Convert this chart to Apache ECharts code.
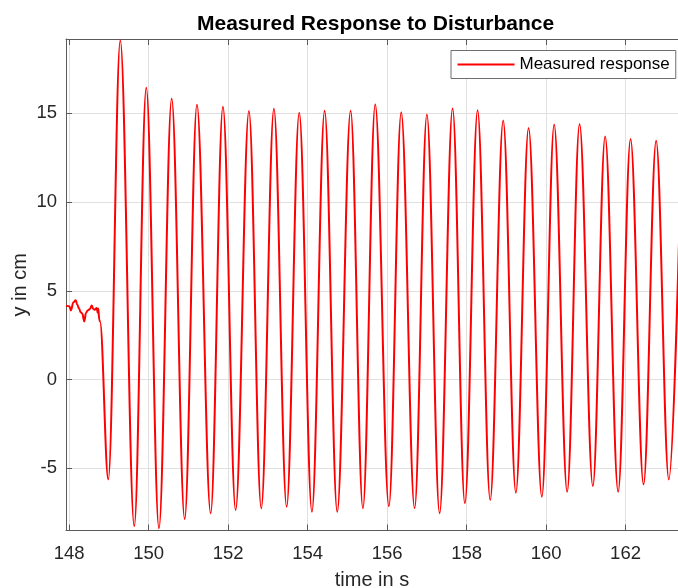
<!DOCTYPE html>
<html>
<head>
<meta charset="utf-8">
<script src="https://cdn.jsdelivr.net/npm/echarts@6/dist/echarts.min.js"></script>
<style>
html,body{margin:0;padding:0;background:#fff;}
#chart{width:678px;height:588px;}
</style>
</head>
<body>
<div id="chart"></div>
<script>
// ---- data ----
const titleText = 'Measured Response to Disturbance';
const seriesName = 'Measured response';
const xName = 'time in s';
const yName = 'y in cm';

// time (s) of each sample: quiet part, then peaks/troughs of the oscillation
const timeS = [
  147.920, 148.003, 148.045, 148.103, 148.164, 148.204, 148.254, 148.289, 148.330, 148.380,
  148.423, 148.465, 148.523, 148.566, 148.606, 148.649, 148.692, 148.717, 148.732, 148.757,
  148.775,
  148.984, 149.286, 149.638, 149.940, 150.259, 150.579, 150.906, 151.215, 151.560, 151.869,
  152.189, 152.523, 152.833, 153.152, 153.472, 153.789, 154.108, 154.428, 154.745, 155.082,
  155.391, 155.701, 156.045, 156.355, 156.692, 157.001, 157.321, 157.648, 157.957, 158.277,
  158.594, 158.921, 159.240, 159.560, 159.894, 160.204, 160.531, 160.843, 161.177, 161.487,
  161.814, 162.126, 162.453, 162.770, 163.089, 163.410
];
// measured response y (cm)
const yCm = [
  4.17, 4.13, 3.90, 4.35, 4.47, 4.22, 3.98, 3.79, 3.72, 3.28,
  3.75, 3.90, 3.98, 4.17, 3.98, 3.94, 4.04, 3.77, 4.00, 3.38,
  3.28,
  -5.62, 19.11, -8.25, 16.45, -8.37, 15.83, -7.85, 15.49, -7.53, 15.38,
  -7.34, 15.13, -7.25, 15.26, -7.16, 15.04, -7.44, 15.15, -7.44, 15.15,
  -7.25, 15.50, -7.13, 15.06, -7.25, 14.93, -7.53, 15.28, -6.97, 15.17,
  -6.78, 14.60, -6.37, 14.17, -6.60, 14.38, -6.32, 14.40, -6.00, 13.70,
  -6.32, 13.56, -5.90, 13.46, -5.62, 13.30
];
const xTicks = [148, 150, 152, 154, 156, 158, 160, 162];
const yTicks = [-5, 0, 5, 10, 15];
const xMin = 147.92, xMax = 163.32;
const yMin = -8.5, yMax = 19.19;

// ---- chart ----
const FONT = '"Liberation Sans", Arial, Helvetica, sans-serif';
const axisColor = '#5a5a5a';
const gridColor = '#e0e0e0';
const labelColor = '#262626';

const chart = echarts.init(document.getElementById('chart'), null, {renderer: 'canvas'});
const data = timeS.map((t, i) => [t, yCm[i]]);

chart.setOption({
  animation: false,
  backgroundColor: '#ffffff',
  title: {
    text: titleText,
    left: 197, top: 14, padding: 0,
    textStyle: {fontFamily: FONT, fontSize: 21, fontWeight: 'bold', color: '#000'}
  },
  legend: {
    data: [seriesName],
    left: 451, top: 50.5,
    padding: [5.5, 6, 5.5, 5.5],
    itemWidth: 57, itemHeight: 17,
    itemStyle: {opacity: 0},
    lineStyle: {color: '#ff0000', width: 2},
    backgroundColor: '#fff',
    borderColor: '#6e6e6e', borderWidth: 1, borderRadius: 0,
    textStyle: {fontFamily: FONT, fontSize: 17, color: '#000'}
  },
  grid: {left: 66, right: 0, top: 39, bottom: 57.5, containLabel: false, outerBoundsMode: 'none'},
  xAxis: [{
    type: 'value', min: xMin, max: xMax, position: 'bottom',
    name: xName, nameLocation: 'middle', nameGap: 40,
    nameTextStyle: {fontFamily: FONT, fontSize: 20, color: labelColor},
    axisLine: {show: true, onZero: false, lineStyle: {color: axisColor, width: 1}},
    axisTick: {show: true, inside: true, length: 6, customValues: xTicks, lineStyle: {color: axisColor}},
    axisLabel: {customValues: xTicks, margin: 14, fontFamily: FONT, fontSize: 18.5, color: labelColor},
    splitLine: {show: true, lineStyle: {color: gridColor, width: 1}}
  }, {
    type: 'value', min: xMin, max: xMax, position: 'top',
    axisLine: {show: true, onZero: false, lineStyle: {color: axisColor, width: 1}},
    axisTick: {show: true, inside: true, length: 6, customValues: xTicks, lineStyle: {color: axisColor}},
    axisLabel: {show: false},
    splitLine: {show: false}
  }],
  yAxis: {
    type: 'value', min: yMin, max: yMax,
    name: yName, nameLocation: 'middle', nameGap: 36, nameMoveOverlap: false,
    nameTextStyle: {fontFamily: FONT, fontSize: 20, color: labelColor},
    axisLine: {show: true, onZero: false, lineStyle: {color: axisColor, width: 1}},
    axisTick: {show: true, inside: true, length: 6, customValues: yTicks, lineStyle: {color: axisColor}},
    axisLabel: {customValues: yTicks, margin: 9, fontFamily: FONT, fontSize: 18.5, color: labelColor},
    splitLine: {show: true, lineStyle: {color: gridColor, width: 1}}
  },
  series: [{
    name: seriesName,
    type: 'line',
    xAxisIndex: 0,
    data: data,
    showSymbol: false,
    symbol: 'none',
    smooth: 0.363,
    smoothMonotone: 'x',
    clip: true,
    lineStyle: {color: '#ff0000', width: 2},
    itemStyle: {color: '#ff0000'}
  }]
});
</script>
</body>
</html>
